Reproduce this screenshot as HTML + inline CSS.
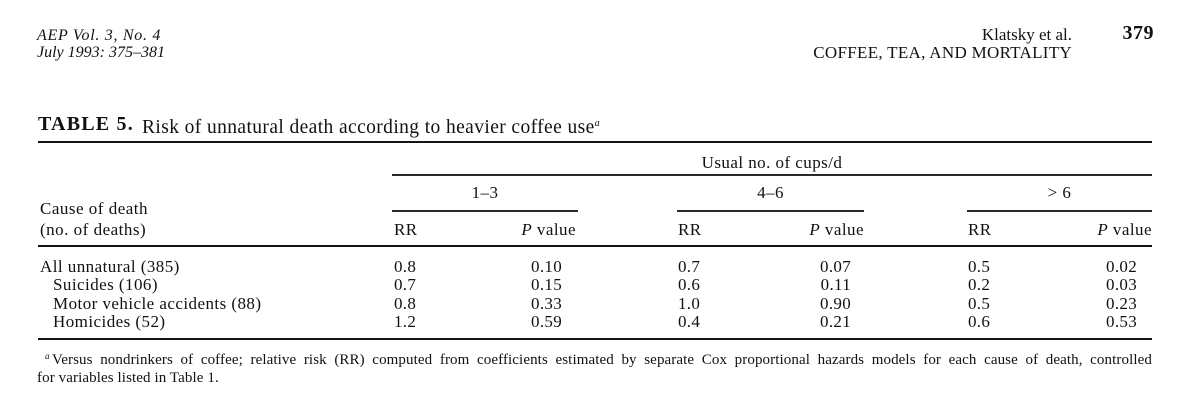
<!DOCTYPE html>
<html><head><meta charset="utf-8"><style>
*{margin:0;padding:0;box-sizing:border-box}
html,body{width:1200px;height:412px;background:#fff;overflow:hidden}
body{position:relative;font-family:"Liberation Serif",serif;color:#111}
.t{position:absolute;white-space:nowrap;line-height:20px;font-size:17px;letter-spacing:0.45px}
.r{position:absolute;background:#141414;height:2px}
.r1{position:absolute;background:#2a2a2a;height:1.5px}
.i{font-style:italic}
.c{text-align:center}
.num{letter-spacing:0.3px}
</style></head><body>

<!-- running header -->
<div class="t i" style="left:37px;top:26px;font-size:16px;letter-spacing:0.7px">AEP Vol. 3, No. 4</div>
<div class="t i" style="left:37px;top:43px;font-size:16px;letter-spacing:0px">July 1993: 375–381</div>
<div class="t" style="right:128px;top:25px;font-size:17px;letter-spacing:0">Klatsky et al.</div>
<div class="t" style="right:128px;top:43px;font-size:17px;letter-spacing:0.3px">COFFEE, TEA, AND MORTALITY</div>
<div class="t" style="right:46px;top:23px;font-size:20px;font-weight:bold;letter-spacing:0.5px">379</div>

<!-- title -->
<div class="t" style="left:38px;top:114px;font-size:20px;font-weight:bold;letter-spacing:1.2px">TABLE 5.</div>
<div class="t" style="left:142px;top:114px;font-size:19.5px;letter-spacing:0.4px">Risk of unnatural death according to heavier coffee use<sup style="font-size:10px;font-style:italic;vertical-align:7px;letter-spacing:0">a</sup></div>

<!-- rules -->
<div class="r" style="left:38px;width:1114px;top:141px"></div>
<div class="r1" style="left:392px;width:760px;top:174px"></div>
<div class="r1" style="left:392px;width:186px;top:210px"></div>
<div class="r1" style="left:677px;width:187px;top:210px"></div>
<div class="r1" style="left:967px;width:185px;top:210px"></div>
<div class="r" style="left:38px;width:1114px;top:245px"></div>
<div class="r" style="left:38px;width:1114px;top:338px"></div>

<!-- column headers -->
<div class="t c" style="left:392px;width:760px;top:153px">Usual no. of cups/d</div>
<div class="t c" style="left:392px;width:186px;top:183px">1–3</div>
<div class="t c" style="left:677px;width:187px;top:183px">4–6</div>
<div class="t c" style="left:967px;width:185px;top:183px">&gt; 6</div>

<div class="t" style="left:40px;top:199px;letter-spacing:0.5px">Cause of death</div>
<div class="t" style="left:40px;top:220px;letter-spacing:0.5px">(no. of deaths)</div>

<div class="t" style="left:394px;top:220px">RR</div>
<div class="t" style="right:624px;top:220px"><span class="i">P</span> value</div>
<div class="t" style="left:678px;top:220px">RR</div>
<div class="t" style="right:336px;top:220px"><span class="i">P</span> value</div>
<div class="t" style="left:968px;top:220px">RR</div>
<div class="t" style="right:48px;top:220px"><span class="i">P</span> value</div>

<!-- rows -->
<div class="t" style="left:40px;top:257px">All unnatural (385)</div>
<div class="t" style="left:53px;top:275px">Suicides (106)</div>
<div class="t" style="left:53px;top:294px">Motor vehicle accidents (88)</div>
<div class="t" style="left:53px;top:312px">Homicides (52)</div>

<!-- group 1 -->
<div class="t num" style="left:394px;top:257px">0.8</div>
<div class="t num" style="left:394px;top:275px">0.7</div>
<div class="t num" style="left:394px;top:294px">0.8</div>
<div class="t num" style="left:394px;top:312px">1.2</div>
<div class="t num" style="right:638px;top:257px">0.10</div>
<div class="t num" style="right:638px;top:275px">0.15</div>
<div class="t num" style="right:638px;top:294px">0.33</div>
<div class="t num" style="right:638px;top:312px">0.59</div>

<!-- group 2 -->
<div class="t num" style="left:678px;top:257px">0.7</div>
<div class="t num" style="left:678px;top:275px">0.6</div>
<div class="t num" style="left:678px;top:294px">1.0</div>
<div class="t num" style="left:678px;top:312px">0.4</div>
<div class="t num" style="right:349px;top:257px">0.07</div>
<div class="t num" style="right:349px;top:275px">0.11</div>
<div class="t num" style="right:349px;top:294px">0.90</div>
<div class="t num" style="right:349px;top:312px">0.21</div>

<!-- group 3 -->
<div class="t num" style="left:968px;top:257px">0.5</div>
<div class="t num" style="left:968px;top:275px">0.2</div>
<div class="t num" style="left:968px;top:294px">0.5</div>
<div class="t num" style="left:968px;top:312px">0.6</div>
<div class="t num" style="right:63px;top:257px">0.02</div>
<div class="t num" style="right:63px;top:275px">0.03</div>
<div class="t num" style="right:63px;top:294px">0.23</div>
<div class="t num" style="right:63px;top:312px">0.53</div>

<!-- footnote -->
<div class="t i" style="left:45px;top:346px;font-size:9px;letter-spacing:0">a</div>
<div class="t" style="left:52px;top:350px;width:1100px;font-size:15px;letter-spacing:0.1px;white-space:normal;text-align:justify;text-align-last:justify;height:20px;overflow:hidden">Versus nondrinkers of coffee; relative risk (RR) computed from coefficients estimated by separate Cox proportional hazards models for each cause of death, controlled</div>
<div class="t" style="left:37px;top:368px;font-size:15px;letter-spacing:0.1px">for variables listed in Table 1.</div>

</body></html>
